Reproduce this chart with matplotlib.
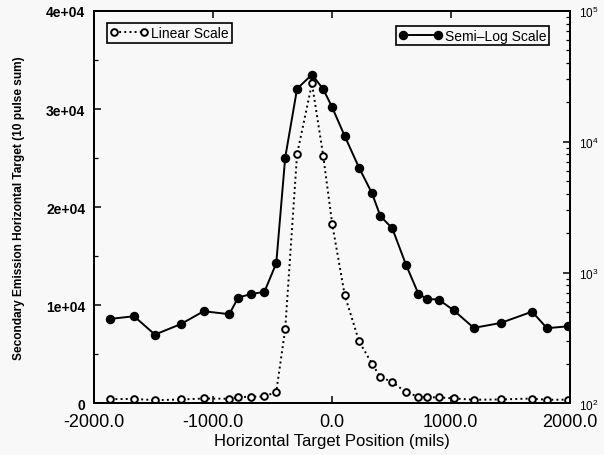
import matplotlib
matplotlib.use("Agg")
import matplotlib.pyplot as plt
from matplotlib.ticker import MultipleLocator, FuncFormatter, LogLocator

plt.rcParams["font.family"] = ["Liberation Sans", "DejaVu Sans"]
plt.rcParams["axes.unicode_minus"] = False

# horizontal target position (mils) and secondary emission signal (10 pulse sum)
position = [-1860, -1660, -1485, -1265, -1075, -860, -785, -675, -565, -465,
            -390, -290, -165, -70, 5, 110, 230, 340, 410, 510,
            625, 730, 805, 900, 1025, 1195, 1420, 1685, 1810, 1990]
signal = [443, 464, 336, 405, 507, 481, 644, 687, 712, 1180,
          7560, 25400, 32600, 25200, 18300, 11060, 6350, 4030, 2700, 2180,
          1150, 687, 629, 622, 516, 378, 412, 503, 376, 389]

x_ticks = [-2000, -1000, 0, 1000, 2000]
y_ticks = [0, 10000, 20000, 30000, 40000]

bg = "#f8f8f8"
fig = plt.figure(figsize=(6.04, 4.56), dpi=100, facecolor=bg)
ax = fig.add_axes([0.155, 0.113, 0.788, 0.861])
ax2 = ax.twinx()

# semi-log series on the right axis
ax2.plot(position, signal, "-", color="black", lw=1.4, marker="o", ms=5.8,
         mfc="black", mec="black", label="Semi\u2013Log Scale")
ax2.set_yscale("log")
ax2.set_ylim(1e2, 1e5)
ax2.yaxis.set_major_locator(LogLocator(base=10))
ax2.yaxis.set_minor_locator(LogLocator(base=10, subs=range(2, 10)))
ax2.tick_params(axis="y", which="major", direction="in", length=5, width=1.1,
                labelsize=8.5, pad=7)
ax2.tick_params(axis="y", which="minor", direction="in", length=3, width=0.9)

# linear series on the left axis
ax.plot(position, signal, ":", color="black", lw=1.4, marker="o", ms=4.8,
        mfc="white", mec="black", mew=1.4, label="Linear Scale")
ax.set_xlim(-2000, 2000)
ax.set_ylim(0, 40000)
ax.set_xticks(x_ticks)
ax.set_yticks(y_ticks)
ax.xaxis.set_major_formatter(FuncFormatter(lambda v, p: "%.1f" % v))
ax.yaxis.set_major_formatter(FuncFormatter(lambda v, p: "0" if v == 0 else "%.0e" % v))
ax.yaxis.set_minor_locator(MultipleLocator(5000))
ax.tick_params(axis="x", which="major", direction="in", length=5, width=1.1,
               top=True, labelsize=13, pad=7)
ax.tick_params(axis="y", which="major", direction="in", length=5, width=1.1,
               labelsize=10, pad=6)
ax.tick_params(axis="y", which="minor", direction="in", length=3, width=0.9)
for t in ax.get_yticklabels():
    t.set_fontweight("bold")

ax.set_zorder(ax2.get_zorder() + 1)
ax.patch.set_visible(False)
ax2.patch.set_visible(False)
for a in (ax, ax2):
    for s in a.spines.values():
        s.set_linewidth(1.4)

ax.set_xlabel("Horizontal Target Position (mils)", fontsize=12, labelpad=2)
ax.set_ylabel("Secondary Emission Horizontal Target (10 pulse sum)",
              fontsize=8.6, fontweight="bold")
ax.yaxis.set_label_coords(-0.145, 0.5)

leg1 = ax.legend(loc="upper left", bbox_to_anchor=(0.028, 0.969), borderaxespad=0,
                 numpoints=2, handlelength=2.8, handletextpad=0.2, borderpad=0.2,
                 fontsize=10, fancybox=False, framealpha=1, facecolor=bg,
                 edgecolor="black")
leg1.get_frame().set_linewidth(1.2)
leg2 = ax2.legend(loc="upper right", bbox_to_anchor=(0.957, 0.962), borderaxespad=0,
                  numpoints=2, handlelength=3.1, handletextpad=0.2, borderpad=0.2,
                  fontsize=10, fancybox=False, framealpha=1, facecolor=bg,
                  edgecolor="black")
leg2.get_frame().set_linewidth(1.2)

plt.savefig("out.png", dpi=100, facecolor=bg)
